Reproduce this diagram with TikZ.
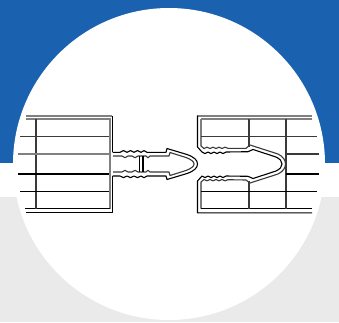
\documentclass[tikz,border=0pt]{standalone}
\definecolor{bluebg}{HTML}{1A62B0}
\definecolor{greybg}{HTML}{EAEAEA}
\definecolor{linegrey}{HTML}{808080}
\definecolor{linedark}{HTML}{3A3A3A}
\tikzset{
  thin line/.style={draw=black,line width=1.1pt,line join=round},
  inner line/.style={draw=linedark,line width=1.1pt,line join=round},
  grey line/.style={draw=linegrey,line width=2pt},
  dark line/.style={draw=linedark,line width=2pt},
  mid line/.style={draw=linedark,line width=1.7pt},
  heavy line/.style={draw=black,line width=2.2pt},
  strong line/.style={draw=black,line width=1.7pt},
}
\begin{document}
\begin{tikzpicture}[x=1pt,y=-1pt]
\useasboundingbox (0,0) rectangle (339,322);
\fill[bluebg] (0,0) rectangle (339,163);
\fill[greybg] (0,197) rectangle (339,322);
\fill[white] (0,163) rectangle (339,197);
\fill[white] (169,164) circle (156);
% left block
\draw[grey line] (26,115.7) -- (112,115.7);
\draw[thin line] (112.7,115.7) -- (112.7,152.3);
\draw[thin line] (112.7,176) -- (112.7,212.8) -- (26,212.8);
\draw[grey line] (26,119.2) -- (109.5,119.2) -- (109.5,208.7);
\draw[thin line] (25,208.7) -- (109.5,208.7);
\draw[dark line] (36,119) -- (36,208.7);
\draw[mid line] (20,136.5) -- (109,136.5);
\draw[grey line] (18,154) -- (109,154);
\draw[heavy line] (18,174) -- (109,174);
\draw[strong line] (20,191.5) -- (109,191.5);
% left plug: outer contour
\draw[thin line] (112.7,152.3) -- (120,152.3) sin (123.5,150.6) cos (127,152.3) sin (130.5,150.6) cos (134,152.3)
  sin (137.5,150.6) cos (141,152.3) sin (144,150.6) cos (147,152.3) -- (166,152.3) -- (167,148.5)
  -- (187,154.5) .. controls (194,157) and (197.5,160) .. (197.5,164)
  .. controls (197.5,168) and (194,171) .. (187,173.5) -- (167,179.5) -- (166,176)
  -- (147,176) sin (144,177.7) cos (141,176) sin (137.5,177.7) cos (134,176) sin (130.5,177.7) cos (127,176)
  sin (123.5,177.7) cos (120,176) -- (112.7,176);
% left plug: inner contour
\draw[inner line] (113,156) -- (122,156) sin (125,157.7) cos (128,156) -- (132,156)
  sin (135,157.7) cos (138,156) -- (146,156) sin (148,157.7) cos (150,156) -- (169,156) -- (170,152.5)
  -- (186,157.5) .. controls (191,159.5) and (194,161.5) .. (194,164)
  .. controls (194,166.5) and (191,168.5) .. (186,170.5) -- (170,175.5) -- (169,172)
  -- (150,172) sin (148,170.3) cos (146,172) -- (138,172) sin (135,170.3) cos (132,172) -- (128,172)
  sin (125,170.3) cos (122,172) -- (113,172);
\draw[thin line] (139.5,156) -- (139.5,172);
\draw[thin line] (143,156) -- (143,172);
% right block
\draw[grey line] (197,115.7) -- (312,115.7);
% void-side contour (A)
\draw[thin line] (197.5,115.7) -- (197.5,147) -- (202,152) sin (205,153.6) cos (208,152) sin (211,153.6) cos (214,152)
  sin (217,153.6) cos (220,152) sin (223,153.6) cos (226,152) -- (248,151.7)
  -- (253,149.5) -- (276,157) .. controls (280,159) and (282,161) .. (282,164)
  .. controls (282,167) and (280,169) .. (276,171) -- (253,178.5) -- (248,176.3)
  -- (226,176) sin (223,177.6) cos (220,176) sin (217,177.6) cos (214,176)
  sin (211,177.6) cos (208,176) sin (205,177.6) cos (202,176) -- (197.5,181) -- (197.5,212.8) -- (312,212.8);
% material-side contour (B)
\draw[inner line] (201,119) -- (201,146) -- (204,148.5) sin (207,147.2) cos (210,148.5) sin (213,147.2) cos (216,148.5)
  sin (219,147.2) cos (222,148.5) sin (225,147.2) cos (228,148.3) -- (246,148.3)
  -- (250,145) -- (278,154) .. controls (283,156.5) and (285.5,160) .. (285.5,164)
  .. controls (285.5,168) and (283,171.5) .. (278,174) -- (250,183) -- (246,180)
  -- (228,179.7) sin (225,180.8) cos (222,179.5) sin (219,180.8) cos (216,179.5) sin (213,180.8) cos (210,179.5)
  sin (207,180.8) cos (204,179.5) -- (201,182) -- (201,208.7);
\draw[grey line] (201,119.2) -- (312,119.2);
\draw[thin line] (201,208.7) -- (312,208.7);
\draw[dark line] (248.5,119) -- (248.5,147);
\draw[dark line] (248.5,181) -- (248.5,208.7);
\draw[dark line] (285.5,119) -- (285.5,208.7);
\draw[mid line] (201,136.5) -- (317,136.5);
\draw[mid line] (285.5,154) -- (319,154);
\draw[heavy line] (285.5,174) -- (319,174);
\draw[strong line] (201,191.5) -- (317,191.5);
\end{tikzpicture}
\end{document}
